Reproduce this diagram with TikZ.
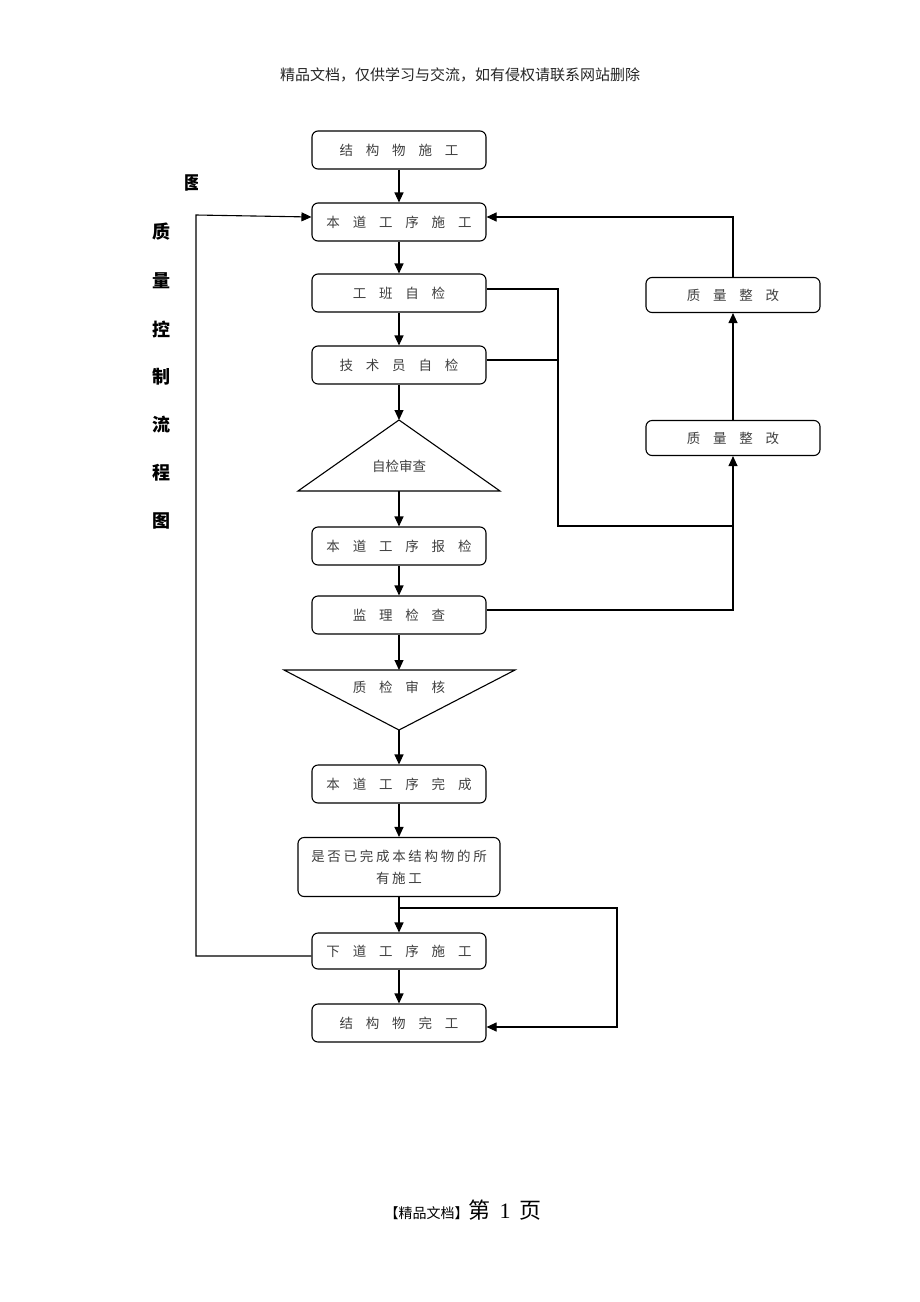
\documentclass[tikz,border=0pt]{standalone}
\usepackage{fontspec}
\usetikzlibrary{arrows.meta,shapes.geometric}
\newfontfamily\cjk{Noto Sans CJK SC}
\newfontfamily\cjksp[LetterSpace=20]{Noto Sans CJK SC}
\newfontfamily\serifnum{Liberation Serif}
\newcommand{\spc}{\hspace{0.95em}}
\tikzset{
  box/.style={draw=black, line width=1.1pt, rounded corners=6pt, minimum width=174pt, minimum height=38pt, inner sep=0pt, text=black!75, font=\cjk\fontsize{13.5}{15}\selectfont},
  tri/.style={draw=black, line width=1.1pt},
  lbl/.style={text=black!75, font=\cjk\fontsize{13.5}{15}\selectfont},
  conn/.style={line width=1.1pt, draw=black},
  arr/.style={conn, -{Triangle[length=10pt,width=9pt]}},
  title/.style={font=\cjk\bfseries\fontsize{18}{20}\selectfont, text=black}
}
\begin{document}
\begin{tikzpicture}[x=1pt,y=-1pt]
\path[use as bounding box, fill=white] (0,0) rectangle (920,1302);

% header and footer
\node[font=\cjk\fontsize{15}{17}\selectfont, text=black!85] (hdr) at (460,75) {精品文档，仅供学习与交流，如有侵权请联系网站删除};
\node[text=black] (ftr) at (463,1210) {{\cjk\fontsize{14}{16}\selectfont 【精品文档】}{\cjk\fontsize{22}{24}\selectfont 第\hspace{9pt}{\serifnum 1}\hspace{9pt}页}};

% vertical title
\begin{scope}
\clip (170,165) rectangle (197.5,200);
\node[title] (t0) at (193,183) {图};
\end{scope}
\node[title] (t1) at (161,232) {质};
\node[title] (t2) at (161,281) {量};
\node[title] (t3) at (161,329) {控};
\node[title] (t4) at (161,377) {制};
\node[title] (t5) at (161,425) {流};
\node[title] (t6) at (161,473) {程};
\node[title] (t7) at (161,521) {图};

% main column
\node[box] (b1) at (399,150) {结\spc 构\spc 物\spc 施\spc 工};
\node[box] (b2) at (399,222) {本\spc 道\spc 工\spc 序\spc 施\spc 工};
\node[box] (b3) at (399,293) {工\spc 班\spc 自\spc 检};
\node[box] (b4) at (399,365) {技\spc 术\spc 员\spc 自\spc 检};
\coordinate (t1a) at (399,420);
\coordinate (t1l) at (298,491);
\coordinate (t1r) at (500,491);
\draw[tri] (t1a) -- (t1r) -- (t1l) -- cycle;
\node[lbl] (tri1) at (399,466) {自检审查};
\coordinate (t1b) at (399,491);
\node[box] (b5) at (399,546) {本\spc 道\spc 工\spc 序\spc 报\spc 检};
\node[box] (b6) at (399,615) {监\spc 理\spc 检\spc 查};
\coordinate (t2l) at (284,670);
\coordinate (t2r) at (515,670);
\coordinate (t2t) at (399,670);
\coordinate (t2a) at (399,730);
\draw[tri] (t2l) -- (t2r) -- (t2a) -- cycle;
\node[lbl] (tri2) at (399,687) {质\spc 检\spc 审\spc 核};
\node[box] (b7) at (399,784) {本\spc 道\spc 工\spc 序\spc 完\spc 成};
\node[box, minimum width=202pt, minimum height=59pt, align=center, font=\cjksp\fontsize{13.5}{22}\selectfont] (b8) at (399,867) {是否已完成本结构物的所\\有施工};
\node[box, minimum height=36pt] (b9) at (399,951) {下\spc 道\spc 工\spc 序\spc 施\spc 工};
\node[box] (b10) at (399,1023) {结\spc 构\spc 物\spc 完\spc 工};

% right column
\node[box, minimum height=35pt] (q1) at (733,295) {质\spc 量\spc 整\spc 改};
\node[box, minimum height=35pt] (q2) at (733,438) {质\spc 量\spc 整\spc 改};

% vertical arrows
\draw[arr] (b1) -- (b2);
\draw[arr] (b2) -- (b3);
\draw[arr] (b3) -- (b4);
\draw[arr] (b4) -- (t1a);
\draw[arr] (t1b) -- (b5);
\draw[arr] (b5) -- (b6);
\draw[arr] (b6) -- (t2t);
\draw[arr] (t2a) -- (b7);
\draw[arr] (b7) -- (b8);
\draw[arr] (b8) -- (b9);
\draw[arr] (b9) -- (b10);

% feedback loops
\coordinate (j1) at (558,526);
\coordinate (j2) at (733,526);
\draw[conn] (b3.east |- 0,289) -- (558,289) -- (j1) -- (j2);
\draw[conn] (b4.east |- 0,360) -- (558,360);
\draw[conn] (b6.east |- 0,610) -| (j2);
\draw[arr] (j2) -- (q2.south);
\draw[arr] (q2) -- (q1);
\draw[arr] (q1.north) |- (b2.east |- 0,217);

% left loop
\coordinate (l1) at (196,956);
\coordinate (l2) at (196,215);
\draw[arr] (b9.west |- 0,956) -- (l1) -- (l2) -- (b2.west |- 0,217);

% bottom right bypass
\coordinate (r1) at (399,908);
\coordinate (r2) at (617,908);
\coordinate (r3) at (617,1027);
\draw[arr] (r1) -- (r2) -- (r3) -- (b10.east |- r3);
\end{tikzpicture}
\end{document}
